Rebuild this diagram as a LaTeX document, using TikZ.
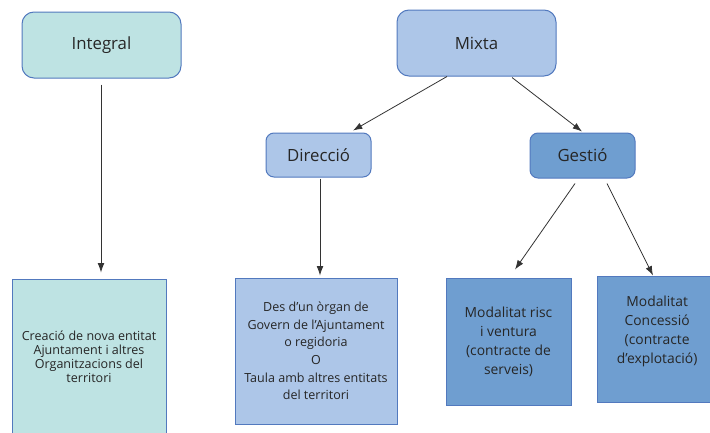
\documentclass[tikz,border=0pt]{standalone}
\usepackage{fontspec}
\setmainfont{Open Sans}
\usetikzlibrary{calc,arrows.meta}
\definecolor{tealfill}{HTML}{BEE3E3}
\definecolor{lightblue}{HTML}{ADC6E8}
\definecolor{midblue}{HTML}{6F9ED0}
\definecolor{edgeblue}{HTML}{5279BE}
\definecolor{txt}{HTML}{262626}
\definecolor{arrowcol}{HTML}{333333}
\tikzset{
  box/.style={draw=edgeblue, line width=0.75pt, text=txt, inner sep=0pt, align=center},
  topbox/.style={box, rounded corners=9pt, font=\fontsize{12.6}{15}\selectfont},
  arr/.style={draw=arrowcol, line width=0.6pt, -{Latex[length=7pt,width=5pt]}}
}
\begin{document}
\begin{tikzpicture}[x=0.75pt,y=-0.75pt]
\useasboundingbox (0,0) rectangle (710,432);
% top level
\node[topbox, fill=tealfill, minimum width=159*0.75pt, minimum height=66*0.75pt] (integral) at (101.5,45) {Integral};
\node[topbox, fill=lightblue, minimum width=159*0.75pt, minimum height=66*0.75pt] (mixta) at (476.5,43) {Mixta};
% second level
\node[topbox, rounded corners=6pt, fill=lightblue, minimum width=105*0.75pt, minimum height=44*0.75pt] (direccio) at (318.5,155) {Direcció};
\node[topbox, rounded corners=6pt, fill=midblue, minimum width=105*0.75pt, minimum height=45*0.75pt] (gestio) at (582.5,155.5) {Gestió};
% bottom level
\node[box, fill=tealfill, minimum width=154*0.75pt, minimum height=156*0.75pt,
  font=\fontsize{9.4}{10.6}\selectfont] (creacio) at (89,357)
  {Creació de nova entitat\\Ajuntament i altres\\Organitzacions del\\territori};
\node[box, fill=lightblue, minimum width=162*0.75pt, minimum height=146*0.75pt,
  font=\fontsize{9.4}{13.2}\selectfont] (des) at (316,351)
  {Des d’un òrgan de\\Govern de l’Ajuntament\\o regidoria\\O\\Taula amb altres entitats\\del territori};
\node[box, fill=midblue, minimum width=125*0.75pt, minimum height=127*0.75pt,
  font=\fontsize{10.4}{14.25}\selectfont] (risc) at (508.5,341.5)
  {Modalitat risc\\i ventura\\(contracte de\\serveis)};
\node[box, fill=midblue, minimum width=115*0.75pt, minimum height=126*0.75pt,
  label={[text=txt, align=center, font=\fontsize{10.4}{14.25}\selectfont, yshift=6pt, xshift=2pt]center:Modalitat\\Concessió\\(contracte\\d’explotació)}] (conc) at (654.5,339) {};
% connectors
\draw[arr] ($(integral.south)+(-0.5,6)$) -- ($(creacio.north)+(12,-6)$);
\draw[arr] ($(mixta.south)+(-29.5,0)$) -- ($(direccio.north)+(34.5,-2)$);
\draw[arr] ($(mixta.south)+(35.5,1)$) -- ($(gestio.north)+(-0.5,-1)$);
\draw[arr] ($(direccio.south)+(1.5,1)$) -- ($(des.north)+(4,-2)$);
\draw[arr] ($(gestio.south)+(-7.5,5)$) -- ($(risc.north)+(6.5,-8)$);
\draw[arr] ($(gestio.south)+(24.5,5)$) -- ($(conc.north)+(-1.5,0)$);
\end{tikzpicture}
\end{document}
